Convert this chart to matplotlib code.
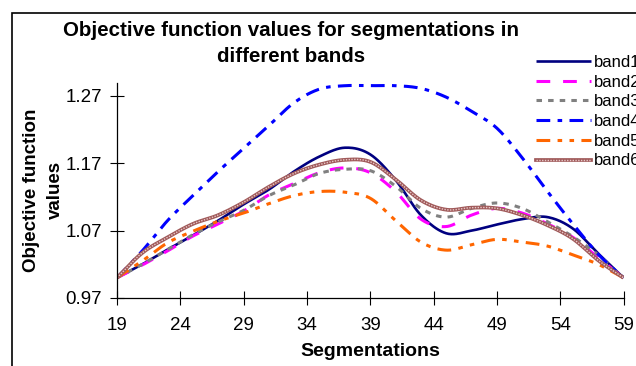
import numpy as np
import matplotlib
matplotlib.use("Agg")
import matplotlib.pyplot as plt
from matplotlib.patches import Rectangle
from matplotlib.lines import Line2D

plt.rcParams['font.family'] = ['Liberation Sans', 'DejaVu Sans']

# data
segs = [19, 21, 23, 25, 27, 29, 31, 33, 35, 37, 39, 41, 43, 45, 47, 49, 51, 53, 55, 57, 59]
band1 = [1.000, 1.020, 1.042, 1.063, 1.085, 1.109, 1.131, 1.158, 1.180, 1.193, 1.183,
         1.145, 1.093, 1.066, 1.070, 1.079, 1.087, 1.090, 1.073, 1.036, 1.000]
band2 = [1.000, 1.019, 1.040, 1.062, 1.080, 1.099, 1.123, 1.140, 1.156, 1.163, 1.156,
         1.128, 1.087, 1.076, 1.093, 1.103, 1.096, 1.080, 1.060, 1.030, 1.000]
band3 = [1.000, 1.020, 1.042, 1.064, 1.083, 1.100, 1.122, 1.138, 1.155, 1.161, 1.159,
         1.136, 1.103, 1.090, 1.103, 1.111, 1.103, 1.083, 1.061, 1.034, 1.000]
band4 = [1.000, 1.040, 1.085, 1.122, 1.158, 1.192, 1.226, 1.260, 1.280, 1.285, 1.285,
         1.285, 1.281, 1.268, 1.247, 1.222, 1.178, 1.128, 1.080, 1.035, 1.000]
band5 = [1.000, 1.025, 1.052, 1.069, 1.084, 1.096, 1.110, 1.122, 1.128, 1.127, 1.118,
         1.085, 1.053, 1.041, 1.049, 1.057, 1.053, 1.047, 1.034, 1.020, 1.000]
band6 = [1.000, 1.037, 1.060, 1.080, 1.093, 1.112, 1.135, 1.155, 1.168, 1.175, 1.172,
         1.146, 1.115, 1.101, 1.104, 1.103, 1.093, 1.078, 1.058, 1.026, 1.000]
labels = ["band1", "band2", "band3", "band4", "band5", "band6"]
xticks = [19, 24, 29, 34, 39, 44, 49, 54, 59]
yticks = [0.97, 1.07, 1.17, 1.27]


def smooth(x, y, n=20):
    # Catmull-Rom curve through the points, like Excel's smoothed line
    x = np.asarray(x, float)
    y = np.asarray(y, float)
    px = np.concatenate([[2 * x[0] - x[1]], x, [2 * x[-1] - x[-2]]])
    py = np.concatenate([[2 * y[0] - y[1]], y, [2 * y[-1] - y[-2]]])
    t = np.linspace(0, 1, n, endpoint=False)
    xs, ys = [], []
    for i in range(1, len(px) - 2):
        for p, out in ((px, xs), (py, ys)):
            p0, p1, p2, p3 = p[i - 1], p[i], p[i + 1], p[i + 2]
            out.extend(0.5 * (2 * p1 + (-p0 + p2) * t + (2 * p0 - 5 * p1 + 4 * p2 - p3) * t ** 2
                              + (-p0 + 3 * p1 - 3 * p2 + p3) * t ** 3))
    xs.append(x[-1])
    ys.append(y[-1])
    return np.array(xs), np.array(ys)


fig = plt.figure(figsize=(6.36, 3.66), dpi=100)
ax = fig.add_axes([117 / 636, 68 / 366, 506.5 / 636, 215 / 366])

styles = [
    dict(color="#000080", lw=1.9, ls="-"),
    dict(color="#FF00FF", lw=2.2, ls=(0, (4.5, 4.2))),
    dict(color="#808080", lw=2.2, ls=(0, (1.8, 2.0))),
    dict(color="#0000FF", lw=2.2, ls=(0, (4.5, 2.4, 1.5, 2.4))),
    dict(color="#FF6600", lw=2.2, ls=(0, (4.5, 2.4, 1.5, 2.4, 1.5, 2.4))),
]
series = [band1, band2, band3, band4, band5]
handles = []
for vals, st, lab in zip(series, styles, labels):
    sx, sy = smooth(segs, vals)
    ln, = ax.plot(sx, sy, color=st["color"], lw=st["lw"], ls=st["ls"], label=lab,
                  solid_capstyle="butt", dash_capstyle="butt")
    handles.append(ln)

# band6: textured brown line
sx, sy = smooth(segs, band6)
ax.plot(sx, sy, color="#A05A5A", lw=2.7, solid_capstyle="butt")
ax.plot(sx, sy, color="#E8C8C8", lw=1.0, ls=(0, (1, 1)))
h6a = Line2D([], [], color="#A05A5A", lw=2.7)
h6b = Line2D([], [], color="#E8C8C8", lw=1.0, ls=(0, (1, 1)))
handles.append((h6a, h6b))

ax.set_xlim(19, 59)
ax.set_ylim(0.97, 1.289)
ax.set_xticks(xticks)
ax.set_yticks(yticks)
ax.set_yticklabels([f"{v:.2f}" for v in yticks])
ax.tick_params(direction="inout", length=9.5, width=0.8, labelsize=13.5, color="black")
ax.tick_params(axis="x", pad=9)
ax.tick_params(axis="y", pad=6)
for s in ["top", "right"]:
    ax.spines[s].set_visible(False)
for s in ["left", "bottom"]:
    ax.spines[s].set_linewidth(0.9)

fig.text(291 / 636, 1 - 30 / 366, "Objective function values for segmentations in",
         ha="center", va="center", fontsize=14.8, fontweight="bold")
fig.text(291 / 636, 1 - 57 / 366, "different bands",
         ha="center", va="center", fontsize=14.8, fontweight="bold")
fig.text(32 / 636, 1 - 190 / 366, "Objective function", rotation=90,
         ha="center", va="center", fontsize=13.5, fontweight="bold")
fig.text(55 / 636, 1 - 190 / 366, "values", rotation=90,
         ha="center", va="center", fontsize=13.5, fontweight="bold")
fig.text(370 / 636, 1 - 351 / 366, "Segmentations",
         ha="center", va="center", fontsize=14, fontweight="bold")

fig.legend(handles, labels, loc="upper left", bbox_to_anchor=(536 / 636, 1 - 55 / 366),
           frameon=False, fontsize=12, handlelength=3.3, handletextpad=0.2,
           labelspacing=0.28, borderpad=0, borderaxespad=0)

fig.patches.append(Rectangle((12 / 636, -0.1), 2, 1.1 - 13 / 366,
                             transform=fig.transFigure, fill=False, ec="black", lw=1.2))

fig.savefig("out.png", dpi=100)
